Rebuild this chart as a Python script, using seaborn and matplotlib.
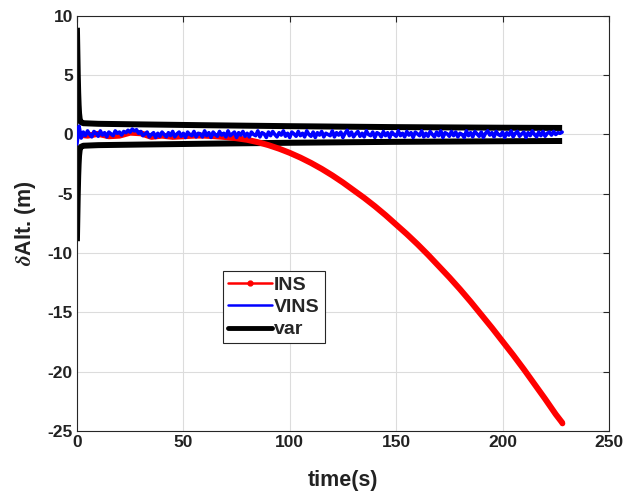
import matplotlib
matplotlib.use("Agg")
import matplotlib.pyplot as plt
from matplotlib.lines import Line2D
import seaborn as sns
import pandas as pd

# ---- data ----
ins_t = [0, 5, 10, 15, 20, 25, 30, 35, 40, 45, 50, 55, 60, 65, 70, 75, 80, 85, 90,
         95, 100, 105, 110, 115, 120, 125, 130, 135, 140, 145, 150, 155, 160, 165,
         170, 175, 180, 185, 190, 195, 200, 205, 210, 215, 220, 225, 228]
ins_y = [0.0, -0.1, 0.05, -0.15, -0.1, 0.15, 0.1, -0.2, -0.1, -0.2, -0.15, -0.1,
         -0.1, -0.15, -0.22, -0.32, -0.45, -0.65, -0.9, -1.2, -1.55, -1.95, -2.4,
         -2.9, -3.45, -4.05, -4.7, -5.35, -6.05, -6.8, -7.6, -8.4, -9.25, -10.15,
         -11.1, -12.05, -13.05, -14.1, -15.2, -16.3, -17.45, -18.6, -19.8, -21.05,
         -22.3, -23.6, -24.3]

# VINS error, one value per second from t = 0 s
vins_y = [-0.8, 0.7, -0.3,
          0.2, -0.1, 0.3, 0.0, -0.2, 0.25, 0.1, -0.15, 0.3, -0.05, 0.15, -0.2, 0.2, 0.05, -0.1, 0.3, 0.1, 0.2, -0.05, 0.25,
          0.15, 0.35, 0.2, 0.45, 0.3, 0.4, 0.1, 0.25, -0.1, 0.05, 0.2, -0.2, 0.0, 0.15, -0.25, 0.1, -0.15, 0.2, 0.0, -0.2,
          0.15, -0.1, 0.25, -0.2, 0.05, 0.2, -0.15, 0.1, -0.25, 0.2, 0.0, -0.1, 0.25, -0.2, 0.1, 0.05, -0.2, 0.3, -0.1, 0.15,
          -0.25, 0.2, 0.0, -0.15, 0.25, -0.05, 0.1, -0.2, 0.3, -0.1, 0.05, 0.2, -0.25, 0.15, -0.05, 0.25, -0.15, 0.1, -0.2, 0.2,
          0.0, -0.1, 0.3, -0.2, 0.15, 0.05, -0.25, 0.2, -0.1, 0.25, 0.0, -0.2, 0.15, -0.05, 0.3, -0.15, 0.1, -0.25, 0.2, 0.05,
          -0.15, 0.25, -0.1, 0.1, -0.2, 0.3, 0.0, -0.15, 0.2, -0.25, 0.15, -0.05, 0.25, -0.2, 0.1, 0.0, -0.1, 0.3, -0.2, 0.15,
          -0.05, 0.2, -0.25, 0.1, 0.35, -0.1, 0.2, -0.2, 0.05, 0.25, -0.15, 0.1, -0.2, 0.3, 0.0, -0.1, 0.2, -0.25, 0.15, 0.05,
          -0.2, 0.25, -0.1, 0.15, -0.25, 0.2, 0.0, -0.15, 0.3, -0.1, 0.1, -0.2, 0.25, -0.05, 0.15, -0.25, 0.2, 0.05, -0.1, 0.3,
          -0.2, 0.1, -0.15, 0.25, 0.0, -0.2, 0.2, -0.1, 0.3, -0.25, 0.15, 0.05, -0.15, 0.25, -0.1, 0.2, -0.2, 0.1, 0.0, -0.25,
          0.3, -0.1, 0.15, -0.2, 0.25, 0.05, -0.15, 0.2, -0.25, 0.1, 0.3, -0.05, 0.15, -0.2, 0.25, 0.0, -0.1, 0.2, -0.25, 0.15,
          -0.05, 0.3, -0.2, 0.1, 0.25, -0.15, 0.05, 0.2, -0.25, 0.15, -0.1, 0.3, 0.0, -0.2, 0.2, -0.1, 0.25, -0.15, 0.1, 0.2,
          -0.05, 0.25, 0.0, 0.15, 0.1, 0.2]
vins_t = list(range(len(vins_y)))

var_t = [0, 0.2, 0.4, 0.6, 0.8, 1.0, 1.3, 1.8, 3, 10, 30, 60, 100, 150, 200, 228]
var_up = [9.0, 7.0, 5.0, 3.5, 2.5, 1.8, 1.3, 1.05, 0.95, 0.9, 0.85, 0.78, 0.7,
          0.62, 0.57, 0.55]
var_lo = [-v for v in var_up]

x_ticks = [0, 50, 100, 150, 200, 250]
y_ticks = [10, 5, 0, -5, -10, -15, -20, -25]

# ---- style ----
sns.set_theme(style="whitegrid")
plt.rcParams["font.family"] = ["Liberation Sans", "DejaVu Sans"]
plt.rcParams["font.weight"] = "bold"
plt.rcParams["mathtext.fontset"] = "stix"

fig = plt.figure(figsize=(6.41, 4.97), dpi=100)
ax = fig.add_axes([0.120, 0.133, 0.830, 0.835])
ax.set_facecolor("white")

df_ins = pd.DataFrame({"t": ins_t, "y": ins_y})
df_vins = pd.DataFrame({"t": vins_t, "y": vins_y})
df_up = pd.DataFrame({"t": var_t, "y": var_up})
df_lo = pd.DataFrame({"t": var_t, "y": var_lo})

sns.lineplot(data=df_ins, x="t", y="y", ax=ax, color="#ff0000", lw=4.3,
             marker="o", markersize=4, markeredgewidth=0, markevery=[len(ins_t) - 1],
             solid_capstyle="round", solid_joinstyle="round", zorder=3, legend=False)
sns.lineplot(data=df_up, x="t", y="y", ax=ax, color="black", lw=4.3,
             zorder=2, solid_capstyle="butt", legend=False)
sns.lineplot(data=df_lo, x="t", y="y", ax=ax, color="black", lw=4.3,
             zorder=2, solid_capstyle="butt", legend=False)
sns.lineplot(data=df_vins, x="t", y="y", ax=ax, color="#0000ff", lw=2.6,
             zorder=4, legend=False)

ax.set_xlim(0, 250)
ax.set_ylim(-25, 10)
ax.set_xticks(x_ticks)
ax.set_yticks(y_ticks)
ax.set_xticklabels([str(v) for v in x_ticks])
ax.set_yticklabels([str(v) for v in y_ticks])

ax.grid(True, color="#dcdcdc", lw=0.8)
for s in ax.spines.values():
    s.set_visible(True)
    s.set_color("#262626")
    s.set_linewidth(0.8)
ax.tick_params(direction="in", length=4, width=0.8, colors="#262626",
               top=True, right=True, labelsize=12.5, pad=3, labelcolor="#222222")
for lab in ax.get_xticklabels() + ax.get_yticklabels():
    lab.set_fontweight("bold")

ax.set_xlabel("time(s)", fontsize=15.5, fontweight="bold", color="#222222")
ax.set_ylabel(r"$\delta$Alt. (m)", fontsize=15.5, fontweight="bold", color="#222222")
ax.xaxis.set_label_coords(0.501, -0.094)
ax.yaxis.set_label_coords(-0.074, 0.5)

hs = [Line2D([], [], color="#ff0000", lw=1.8, marker="o", markersize=3.5),
      Line2D([], [], color="#0000ff", lw=1.8),
      Line2D([], [], color="black", lw=3.5)]
leg = ax.legend(hs, ["INS", "VINS", "var"], loc="lower left",
                bbox_to_anchor=(0.274, 0.211), fancybox=False, framealpha=1,
                edgecolor="#262626", handlelength=2.3, handletextpad=0.1,
                borderpad=0.25, labelspacing=0.25, borderaxespad=0,
                prop={"weight": "bold", "size": 14})
leg.get_frame().set_linewidth(0.8)

fig.savefig("out.png", dpi=100)
